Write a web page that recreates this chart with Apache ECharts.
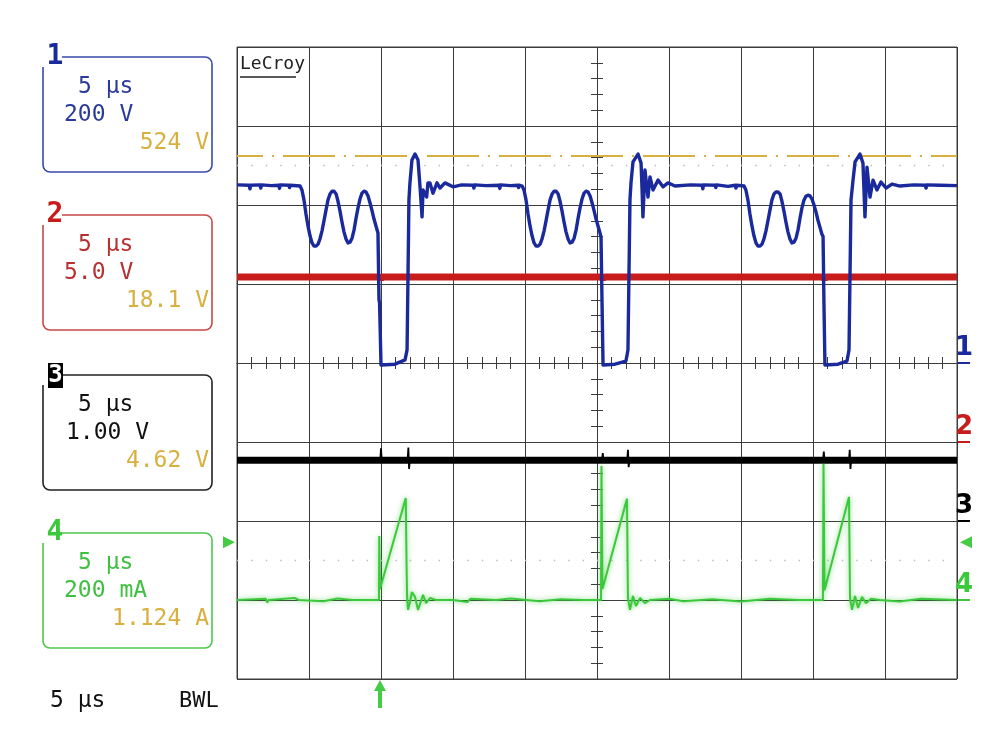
<!DOCTYPE html>
<html><head><meta charset="utf-8">
<script src="https://cdn.jsdelivr.net/npm/echarts@6/dist/echarts.min.js"></script>
<style>html,body{margin:0;padding:0;background:#fff}#c{width:1004px;height:752px}</style>
</head><body><div id="c"></div>
<script>
// ---- data (time in µs, values in channel units) ----
const timeRangeUs = [0, 50];
const timePerDivUs = 5;
const divRange = [-4, 4];

// Channel 1: 200 V/div, zero on centre line
const ch1Trace = [[0,451],[0.85,450],[0.9,441],[0.95,450],[1.6,451],[1.65,443],[1.7,451],[2.4,449],[2.9,450],[2.95,442],[3.0,451],[3.6,450],[3.65,444],[3.7,450],
[4.38,448],[4.51,438],[4.65,413],[4.79,377],[4.93,347],[5.07,322],[5.21,304],[5.35,296],[5.49,296],[5.63,301],[5.76,314],[5.90,334],[6.04,360],[6.18,387],[6.32,413],[6.46,428],[6.60,435],[6.74,435],[6.88,428],[7.01,410],[7.15,385],[7.29,357],[7.43,332],[7.57,314],[7.71,304],[7.85,306],[7.99,316],[8.13,337],[8.26,365],[8.40,392],[8.54,415],[8.68,430],[8.82,435],[8.96,433],[9.10,423],[9.24,405],[9.38,385],[9.51,365],[9.65,347],[9.79,329],
[9.86,160],[9.9,152],[10.0,-5],[10.97,-3],[11.67,8],[11.81,33],[11.94,413],[12.01,456],[12.15,514],[12.36,529],[12.57,514],[12.71,446],[12.85,370],[12.92,438],[13.17,420],[13.26,456],[13.40,456],[13.61,430],[13.89,456],[14.1,443],[14.44,456],[15.0,446],[15.6,451],[16.4,450],[16.45,443],[16.5,451],[17.3,449],[18.2,450],[18.25,442],[18.3,451],[19.0,449],[19.5,450],[19.55,444],[19.6,450],
[19.80,448],[19.93,438],[20.07,413],[20.21,377],[20.35,347],[20.49,322],[20.63,304],[20.77,296],[20.91,296],[21.05,301],[21.18,314],[21.32,334],[21.46,360],[21.60,387],[21.74,413],[21.88,428],[22.02,435],[22.16,435],[22.30,428],[22.43,410],[22.57,385],[22.71,357],[22.85,332],[22.99,314],[23.13,304],[23.27,306],[23.41,316],[23.55,337],[23.68,365],[23.82,392],[23.96,415],[24.10,430],[24.24,435],[24.38,433],[24.52,423],[24.66,405],[24.80,385],[24.93,365],[25.07,347],[25.21,329],[25.28,318],
[25.35,152],[25.42,-5],[26.25,-3],[27.01,5],[27.15,33],[27.29,413],[27.36,456],[27.5,509],[27.85,529],[28.06,506],[28.13,438],[28.19,370],[28.33,489],[28.54,420],[28.68,471],[28.89,438],[29.24,463],[29.58,446],[29.93,456],[30.42,448],[31.5,451],[32.3,450],[32.35,441],[32.4,451],[33.2,450],[33.25,444],[33.3,451],[34.1,447],[34.6,450],[34.65,443],[34.7,450],
[35.21,448],[35.34,438],[35.48,413],[35.62,377],[35.76,347],[35.90,322],[36.04,304],[36.18,296],[36.32,296],[36.46,301],[36.59,314],[36.73,334],[36.87,360],[37.01,387],[37.15,413],[37.29,428],[37.43,433],[37.57,433],[37.71,428],[37.84,410],[37.98,385],[38.12,357],[38.26,332],[38.40,314],[38.54,304],[38.68,306],[38.82,316],[38.96,337],[39.09,365],[39.23,392],[39.37,412],[39.51,422],[39.65,425],[39.79,423],[39.93,415],[40.07,400],[40.21,382],[40.34,362],[40.48,344],[40.62,326],[40.70,320],
[40.76,152],[40.83,-5],[41.74,-3],[42.36,5],[42.5,33],[42.64,413],[42.78,463],[42.92,509],[43.26,529],[43.47,506],[43.54,438],[43.61,370],[43.75,496],[43.96,420],[44.17,463],[44.44,438],[44.72,458],[45.07,443],[45.49,453],[46.04,448],[47,451],[47.8,450],[47.85,443],[47.9,451],[48.8,450],[48.85,445],[48.9,451],[50,449]];

// Channel 2: 5 V/div
const ch2Trace = [[0,10.45],[9.9,10.45],[10.0,10.3],[10.1,10.45],[25.3,10.45],[25.4,10.3],[25.5,10.45],[40.7,10.45],[40.8,10.3],[40.9,10.45],[50,10.45]];

// Channel 3: 1.00 V/div — level and short glitches at the switching edges
const ch3Trace = [[0,0.77],[50,0.77]];
const ch3Glitches = [[9.95,0.77],[10.0,0.92],[10.05,0.77],null,[11.85,0.77],[11.9,0.93],[11.95,0.66],[12.0,0.77],null,
  [25.35,0.77],[25.4,0.86],[25.45,0.77],null,[27.1,0.77],[27.15,0.9],[27.2,0.68],[27.25,0.77],null,
  [40.7,0.77],[40.75,0.88],[40.8,0.77],null,[42.5,0.77],[42.55,0.9],[42.6,0.66],[42.65,0.77]];

// Channel 4: 200 mA/div (values in mA)
const ch4Trace = [[0,0],[2,3],[2.1,-6],[2.2,0],[4,5],[4.3,0],[6,-3],[7,4],[8,0],[9.86,0],[9.88,162],[9.93,28],[10.05,23],[11.72,258],[11.77,104],[11.81,8],[11.88,-25],[12.01,-5],[12.15,20],[12.36,8],[12.57,-25],[12.71,-10],[12.92,13],[13.13,-8],[13.4,5],[13.82,0],[15,0],[16,-5],[16.2,3],[18,0],[19,4],[21,-3],[22.5,2],[24,0],[25.28,0],[25.31,339],[25.38,28],[25.42,25],[27.08,256],[27.15,5],[27.29,-25],[27.5,10],[27.71,-15],[27.99,5],[28.33,-8],[28.68,0],[30,3],[31,-3],[33,2],[35,-4],[37,3],[39,0],[40.69,0],[40.73,344],[40.8,25],[42.5,261],[42.57,5],[42.71,-25],[42.92,10],[43.13,-20],[43.4,8],[43.68,-8],[44.03,3],[44.65,0],[46,-4],[47.5,3],[50,0]];

const ch1CursorV = 524;      // yellow measurement cursor on channel 1
const refLevelDiv = 2.5;     // grey dotted reference levels (±)
const triggerTimeUs = 9.93;
const triggerLevelmA = 146;

const channelScales = [200, 5, 1, 200];   // units per division
const channelZeroDiv = [0, -1, -2, -3];   // ground position in divisions
const channelNames = ['1', '2', '3', '4'];
const channelSettings = [
  ['5 μs', '200 V', '524 V'],
  ['5 μs', '5.0 V', '18.1 V'],
  ['5 μs', '1.00 V', '4.62 V'],
  ['5 μs', '200 mA', '1.124 A']
];
const footerTexts = ['5 μs', 'BWL'];

// ---- styles ----
const gridColor = '#3c3c3c';
const traceColors = ['#1a2a9c', '#c81c1c', '#000000', '#3cc83c'];
const boxColors = ['#3a4aa8', '#c84848', '#222222', '#4cc84c'];
const textColors = ['#2a3a9a', '#b83030', '#111111', '#40c040'];
const measColor = '#d8b040';
const mono = "'DejaVu Sans Mono', monospace";

const toDiv = (pts, ch) => pts.map(p => p === null ? [null, null] : [p[0], p[1] / channelScales[ch] + channelZeroDiv[ch]]);

const chart = echarts.init(document.getElementById('c'), null, {renderer: 'canvas'});

const minorTick = {show: true, splitNumber: 5, length: 6, lineStyle: {color: gridColor, width: 1}};
const hidden = {show: false};

const option = {
  animation: false,
  backgroundColor: '#ffffff',
  grid: {left: 237, top: 47, width: 720, height: 632, show: true, borderColor: gridColor, borderWidth: 1, backgroundColor: 'transparent'},
  xAxis: [
    {type: 'value', min: timeRangeUs[0], max: timeRangeUs[1], interval: timePerDivUs, position: 'bottom',
     axisLine: {show: true, onZero: true, lineStyle: {color: gridColor, width: 1}}, axisTick: hidden, axisLabel: hidden,
     splitLine: {show: true, lineStyle: {color: gridColor, width: 1}}, minorTick: minorTick},
    {type: 'value', min: timeRangeUs[0], max: timeRangeUs[1], interval: timePerDivUs, position: 'top',
     axisLine: {show: false, onZero: true}, axisTick: hidden, axisLabel: hidden, splitLine: hidden, minorTick: minorTick}
  ],
  yAxis: [
    {type: 'value', min: divRange[0], max: divRange[1], interval: 1,
     axisLine: {show: false, onZero: false}, axisTick: hidden, axisLabel: hidden,
     splitLine: {show: true, lineStyle: {color: gridColor, width: 1}}},
    {type: 'value', min: divRange[0], max: divRange[1], interval: 1, position: 'left', offset: -360,
     axisLine: {show: false, onZero: false}, axisTick: hidden, axisLabel: hidden, splitLine: hidden, minorTick: minorTick},
    {type: 'value', min: divRange[0], max: divRange[1], interval: 1, position: 'right', offset: -360,
     axisLine: {show: false, onZero: false}, axisTick: hidden, axisLabel: hidden, splitLine: hidden, minorTick: minorTick}
  ],
  series: [
    {type: 'line', silent: true, symbol: 'none', data: [[timeRangeUs[0], refLevelDiv], [timeRangeUs[1], refLevelDiv]],
     lineStyle: {color: '#bdbdbd', width: 1.5, type: [1.5, 12.9]}, z: 1},
    {type: 'line', silent: true, symbol: 'none', data: [[timeRangeUs[0], -refLevelDiv], [timeRangeUs[1], -refLevelDiv]],
     lineStyle: {color: '#bdbdbd', width: 1.5, type: [1.5, 12.9]}, z: 1},
    {type: 'line', silent: true, symbol: 'none', data: toDiv([[timeRangeUs[0], ch1CursorV], [timeRangeUs[1], ch1CursorV]], 0),
     lineStyle: {color: measColor, width: 2, type: [52, 9, 2, 9], dashOffset: 26}, z: 2},
    {type: 'line', silent: true, symbol: 'none', data: toDiv(ch2Trace, 1),
     lineStyle: {color: traceColors[1], width: 7}, z: 3},
    {type: 'line', silent: true, symbol: 'none', data: toDiv(ch3Trace, 2),
     lineStyle: {color: traceColors[2], width: 7}, z: 3},
    {type: 'line', silent: true, symbol: 'none', connectNulls: false, data: toDiv(ch3Glitches, 2),
     lineStyle: {color: traceColors[2], width: 1.8}, z: 3},
    {type: 'line', silent: true, symbol: 'none', data: toDiv(ch4Trace, 3),
     lineStyle: {color: traceColors[3], width: 2, shadowColor: 'rgba(60,200,60,0.7)', shadowBlur: 5}, z: 4},
    {type: 'line', silent: true, symbol: 'none', data: toDiv(ch1Trace, 0),
     lineStyle: {color: traceColors[0], width: 3.4, join: 'round'}, z: 5}
  ]
};
chart.setOption(option);

const px = (t, d) => chart.convertToPixel({xAxisIndex: 0, yAxisIndex: 0}, [t, d]);

function txt(text, x, y, color, size, align, weight) {
  return {type: 'text', x: x, y: y, z: 20, silent: true,
    style: {text: text, fill: color, font: (weight || 'normal') + ' ' + size + 'px ' + mono,
            textAlign: align || 'left', textVerticalAlign: 'middle', align: align || 'left', verticalAlign: 'middle'}};
}

const g = [];
// Left channel boxes
const boxTops = [57, 215, 375, 533];
for (let i = 0; i < 4; i++) {
  const top = boxTops[i];
  g.push({type: 'rect', z: 10, silent: true, shape: {x: 43, y: top, width: 169, height: 115, r: 7},
          style: {fill: 'none', stroke: boxColors[i], lineWidth: 1.6}});
  g.push({type: 'rect', z: 11, silent: true, shape: {x: 40, y: top - 10, width: 22, height: 20},
          style: {fill: '#ffffff'}});
  if (i === 2) {
    g.push({type: 'rect', z: 12, silent: true, shape: {x: 48, y: top - 12, width: 15, height: 25}, style: {fill: '#000'}});
    g.push(txt(channelNames[i], 55.5, top + 0.5, '#ffffff', 24, 'center', 'bold'));
  } else {
    g.push(txt(channelNames[i], 55, top, traceColors[i], 28, 'center', 'bold'));
  }
  g.push(txt(channelSettings[i][0], 78, top + 30, textColors[i], 23));
  g.push(txt(channelSettings[i][1], i === 2 ? 66 : 64, top + 58, textColors[i], 23));
  g.push(txt(channelSettings[i][2], 209, top + 86, measColor, 23, 'right'));
}
g.push(txt(footerTexts[0], 50, 701, '#111', 23));
g.push(txt(footerTexts[1], 179, 701, '#111', 22));

// LeCroy logo
g.push(txt('LeCroy', 240, 64, '#222', 18));
g.push({type: 'line', z: 20, silent: true, shape: {x1: 240, y1: 77, x2: 296, y2: 77}, style: {stroke: '#222', lineWidth: 1.5}});

// Right channel ground markers
const rightX = 957;
for (let i = 0; i < 4; i++) {
  const p = px(timeRangeUs[1], channelZeroDiv[i]);
  g.push({type: 'text', x: rightX + 7, y: p[1] - 15, z: 20, silent: true,
          style: {text: channelNames[i], fill: traceColors[i], font: 'bold 26px ' + "'DejaVu Sans', sans-serif",
                  textAlign: 'center', textVerticalAlign: 'middle', align: 'center', verticalAlign: 'middle'}});
  g.push({type: 'line', z: 20, silent: true, shape: {x1: rightX + 1, y1: p[1], x2: rightX + 13, y2: p[1]},
          style: {stroke: traceColors[i], lineWidth: 2}});
}

// Trigger markers
const trigDiv = triggerLevelmA / channelScales[3] + channelZeroDiv[3];
const tl = px(timeRangeUs[0], trigDiv);
const tr = px(timeRangeUs[1], trigDiv);
const tb = px(triggerTimeUs, divRange[0]);
const green = '#44cc44';
g.push({type: 'polygon', z: 20, silent: true, shape: {points: [[tl[0] - 14, tl[1] - 6], [tl[0] - 2, tl[1]], [tl[0] - 14, tl[1] + 6]]}, style: {fill: green}});
g.push({type: 'polygon', z: 20, silent: true, shape: {points: [[tr[0] + 15, tr[1] - 6], [tr[0] + 3, tr[1]], [tr[0] + 15, tr[1] + 6]]}, style: {fill: green}});
g.push({type: 'polygon', z: 20, silent: true, shape: {points: [[tb[0] - 6, tb[1] + 12], [tb[0], tb[1] + 1], [tb[0] + 6, tb[1] + 12]]}, style: {fill: green}});
g.push({type: 'rect', z: 20, silent: true, shape: {x: tb[0] - 2, y: tb[1] + 10, width: 4, height: 19}, style: {fill: green}});

chart.setOption({graphic: g});
</script></body></html>
